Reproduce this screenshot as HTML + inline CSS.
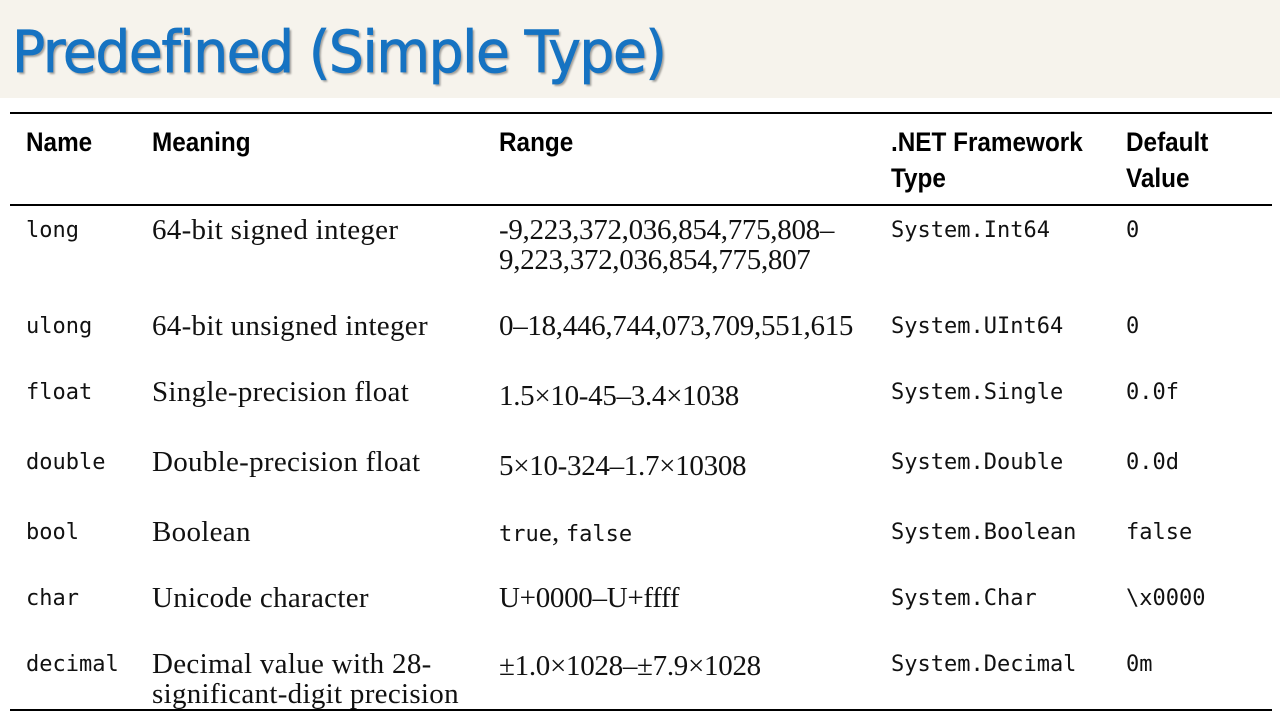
<!DOCTYPE html>
<html><head><meta charset="utf-8"><style>
body{margin:0;width:1280px;height:720px;background:#fff;position:relative;overflow:hidden;font-family:"Liberation Serif",serif}
.top{position:absolute;left:0;top:0;width:1280px;height:98px;background:#f6f3ec}
.title{position:absolute;left:12px;top:18px;font:58px "DejaVu Sans","Liberation Sans",sans-serif;color:#1673c2;text-shadow:2px 2px 2px rgba(0,0,0,.35);letter-spacing:-1.5px;white-space:nowrap;-webkit-text-stroke:0.8px #1673c2;transform:scaleX(0.95);transform-origin:left}
.rule{position:absolute;left:10px;width:1262px;height:2px;background:#000}
.h{position:absolute;font:bold 27px "Liberation Sans Narrow","Liberation Sans",sans-serif;line-height:36px;color:#000;transform:scaleX(0.9);transform-origin:left;white-space:nowrap}
.c{position:absolute;line-height:30px;font-size:29px;color:#111;white-space:nowrap;letter-spacing:-0.3px}
.c.mn{letter-spacing:0.3px}
.m{font-family:"DejaVu Sans Mono","Liberation Mono",monospace;font-size:22px;letter-spacing:0}
</style></head><body>
<div class="top"></div>
<div class="title">Predefined (Simple Type)</div>
<div class="rule" style="top:112px"></div>
<div class="rule" style="top:204px"></div>
<div class="rule" style="top:709px"></div>
<div class="h" style="left:26px;top:124px">Name</div>
<div class="h" style="left:152px;top:124px">Meaning</div>
<div class="h" style="left:499px;top:124px">Range</div>
<div class="h" style="left:891px;top:124px">.NET Framework<br>Type</div>
<div class="h" style="left:1126px;top:124px">Default<br>Value</div>
<div id="rows"></div>
<script>
const names=["long","ulong","float","double","bool","char","decimal"];
const meanings=["64-bit signed integer","64-bit unsigned integer","Single-precision float","Double-precision float","Boolean","Unicode character","Decimal value with 28-<br>significant-digit precision"];
const ranges=["-9,223,372,036,854,775,808–<br>9,223,372,036,854,775,807","0–18,446,744,073,709,551,615","1.5×10-45–3.4×1038","5×10-324–1.7×10308","<span class='m'>true</span>, <span class='m'>false</span>","U+0000–U+ffff","±1.0×1028–±7.9×1028"];
const types=["System.Int64","System.UInt64","System.Single","System.Double","System.Boolean","System.Char","System.Decimal"];
const defs=["0","0","0.0f","0.0d","false","\\x0000","0m"];
const tops=[215,311,377,447,517,583,649];
const rangeOff=[0,0,4,4,0,0,2];
const root=document.getElementById('rows');
function cell(x,y,html,cls,name){
 const d=document.createElement('div');
 d.className='c'+cls;
 d.style.left=x+'px';d.style.top=y+'px';
 d.innerHTML=html;
 
 
 root.appendChild(d);
}
names.forEach((n,i)=>{
 const y=tops[i];
 cell(26,y+1,n,' m','name-'+n);
 cell(152,y,meanings[i],' mn','meaning-'+n);
 cell(499,y+rangeOff[i],ranges[i],'','range-'+n);
 cell(891,y+1,types[i],' m','type-'+n);
 cell(1126,y+1,defs[i],' m','default-'+n);
});
</script>
</body></html>
